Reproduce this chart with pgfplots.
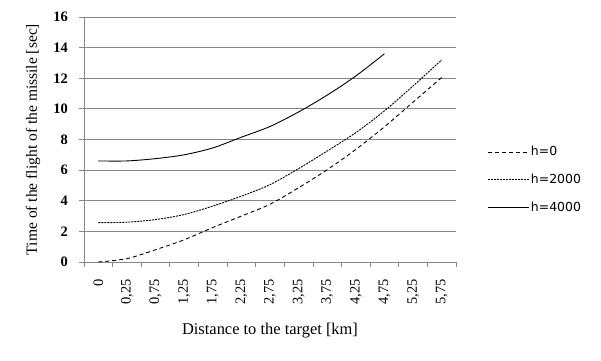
\documentclass[border=0pt]{standalone}
\usepackage{pgfplots}
\pgfplotsset{compat=1.18}
\usepackage{fontspec}
\setmainfont{Liberation Serif}
\newfontfamily\legfont{DejaVu Sans}
\definecolor{gridc}{RGB}{134,134,134}

\begin{document}
\begin{tikzpicture}
\fill[white] (-84bp,-99bp) rectangle (517bp,262bp);
\useasboundingbox (-84bp,-99bp) rectangle (517bp,262bp);
\begin{axis}[
  at={(0,0)}, anchor=south west,
  scale only axis, width=372bp, height=245bp,
  xmin=-0.5, xmax=12.5, ymin=0, ymax=16,
  xtick={0,...,12},
  xticklabels={0,{0,25},{0,75},{1,25},{1,75},{2,25},{2,75},{3,25},{3,75},{4,25},{4,75},{5,25},{5,75}},
  minor xtick={-0.5,0.5,...,12.5},
  ytick={0,2,...,16},
  axis x line*=bottom, axis y line*=left,
  axis line style={gridc,-,line width=0.8bp},
  ymajorgrids, grid style={gridc,line width=0.8bp},
  tick align=outside,
  major tick length=5bp, minor tick length=5bp,
  major x tick style={draw=none},
  minor x tick style={gridc,line width=0.8bp},
  ytick style={gridc,line width=0.8bp},
  /pgf/number format/assume math mode=true,
  xticklabel style={rotate=90, anchor=east, inner sep=0pt, font=\fontsize{14.5}{16}\selectfont},
  xticklabel shift=12bp,
  yticklabel style={inner sep=0pt, font=\bfseries\fontsize{14.5}{16}\selectfont},
  yticklabel shift=11bp,
  xlabel={Distance to the target [km]},
  ylabel={Time of the flight of the missile [sec]},
  xlabel style={font=\fontsize{16.5}{19}\selectfont, at={(axis description cs:0.5,-0.278)}, anchor=center},
  ylabel style={font=\fontsize{15.6}{18}\selectfont, at={(axis description cs:-0.137,0.5)}, anchor=center},
  legend style={draw=none, fill=none, at={(1.075,0.335)}, anchor=west,
    font=\legfont\fontsize{12.5}{14}\selectfont, row sep=13bp},
  legend cell align=left,
  legend image code/.code={\draw[#1] (0bp,0bp) -- (41bp,0bp);},
]
\addplot[black, line width=0.9bp, smooth, dash pattern=on 4bp off 3bp] coordinates {
(0,0) (1,0.22) (2,0.8) (3,1.45) (4,2.25) (5,3.0) (6,3.77) (7,4.85) (8,6.03) (9,7.35) (10,8.83) (11,10.44) (12,12.05)};
\addlegendentry{h=0}
\addplot[black, line width=0.9bp, smooth, dash pattern=on 2bp off 1bp] coordinates {
(0,2.57) (1,2.6) (2,2.77) (3,3.1) (4,3.65) (5,4.3) (6,5.05) (7,6.1) (8,7.25) (9,8.45) (10,9.87) (11,11.5) (12,13.2)};
\addlegendentry{h=2000}
\addplot[black, line width=0.9bp, smooth] coordinates {
(0,6.6) (1,6.6) (2,6.75) (3,7.0) (4,7.45) (5,8.15) (6,8.85) (7,9.8) (8,10.9) (9,12.15) (10,13.6)};
\addlegendentry{h=4000}
\end{axis}
\end{tikzpicture}
\end{document}
